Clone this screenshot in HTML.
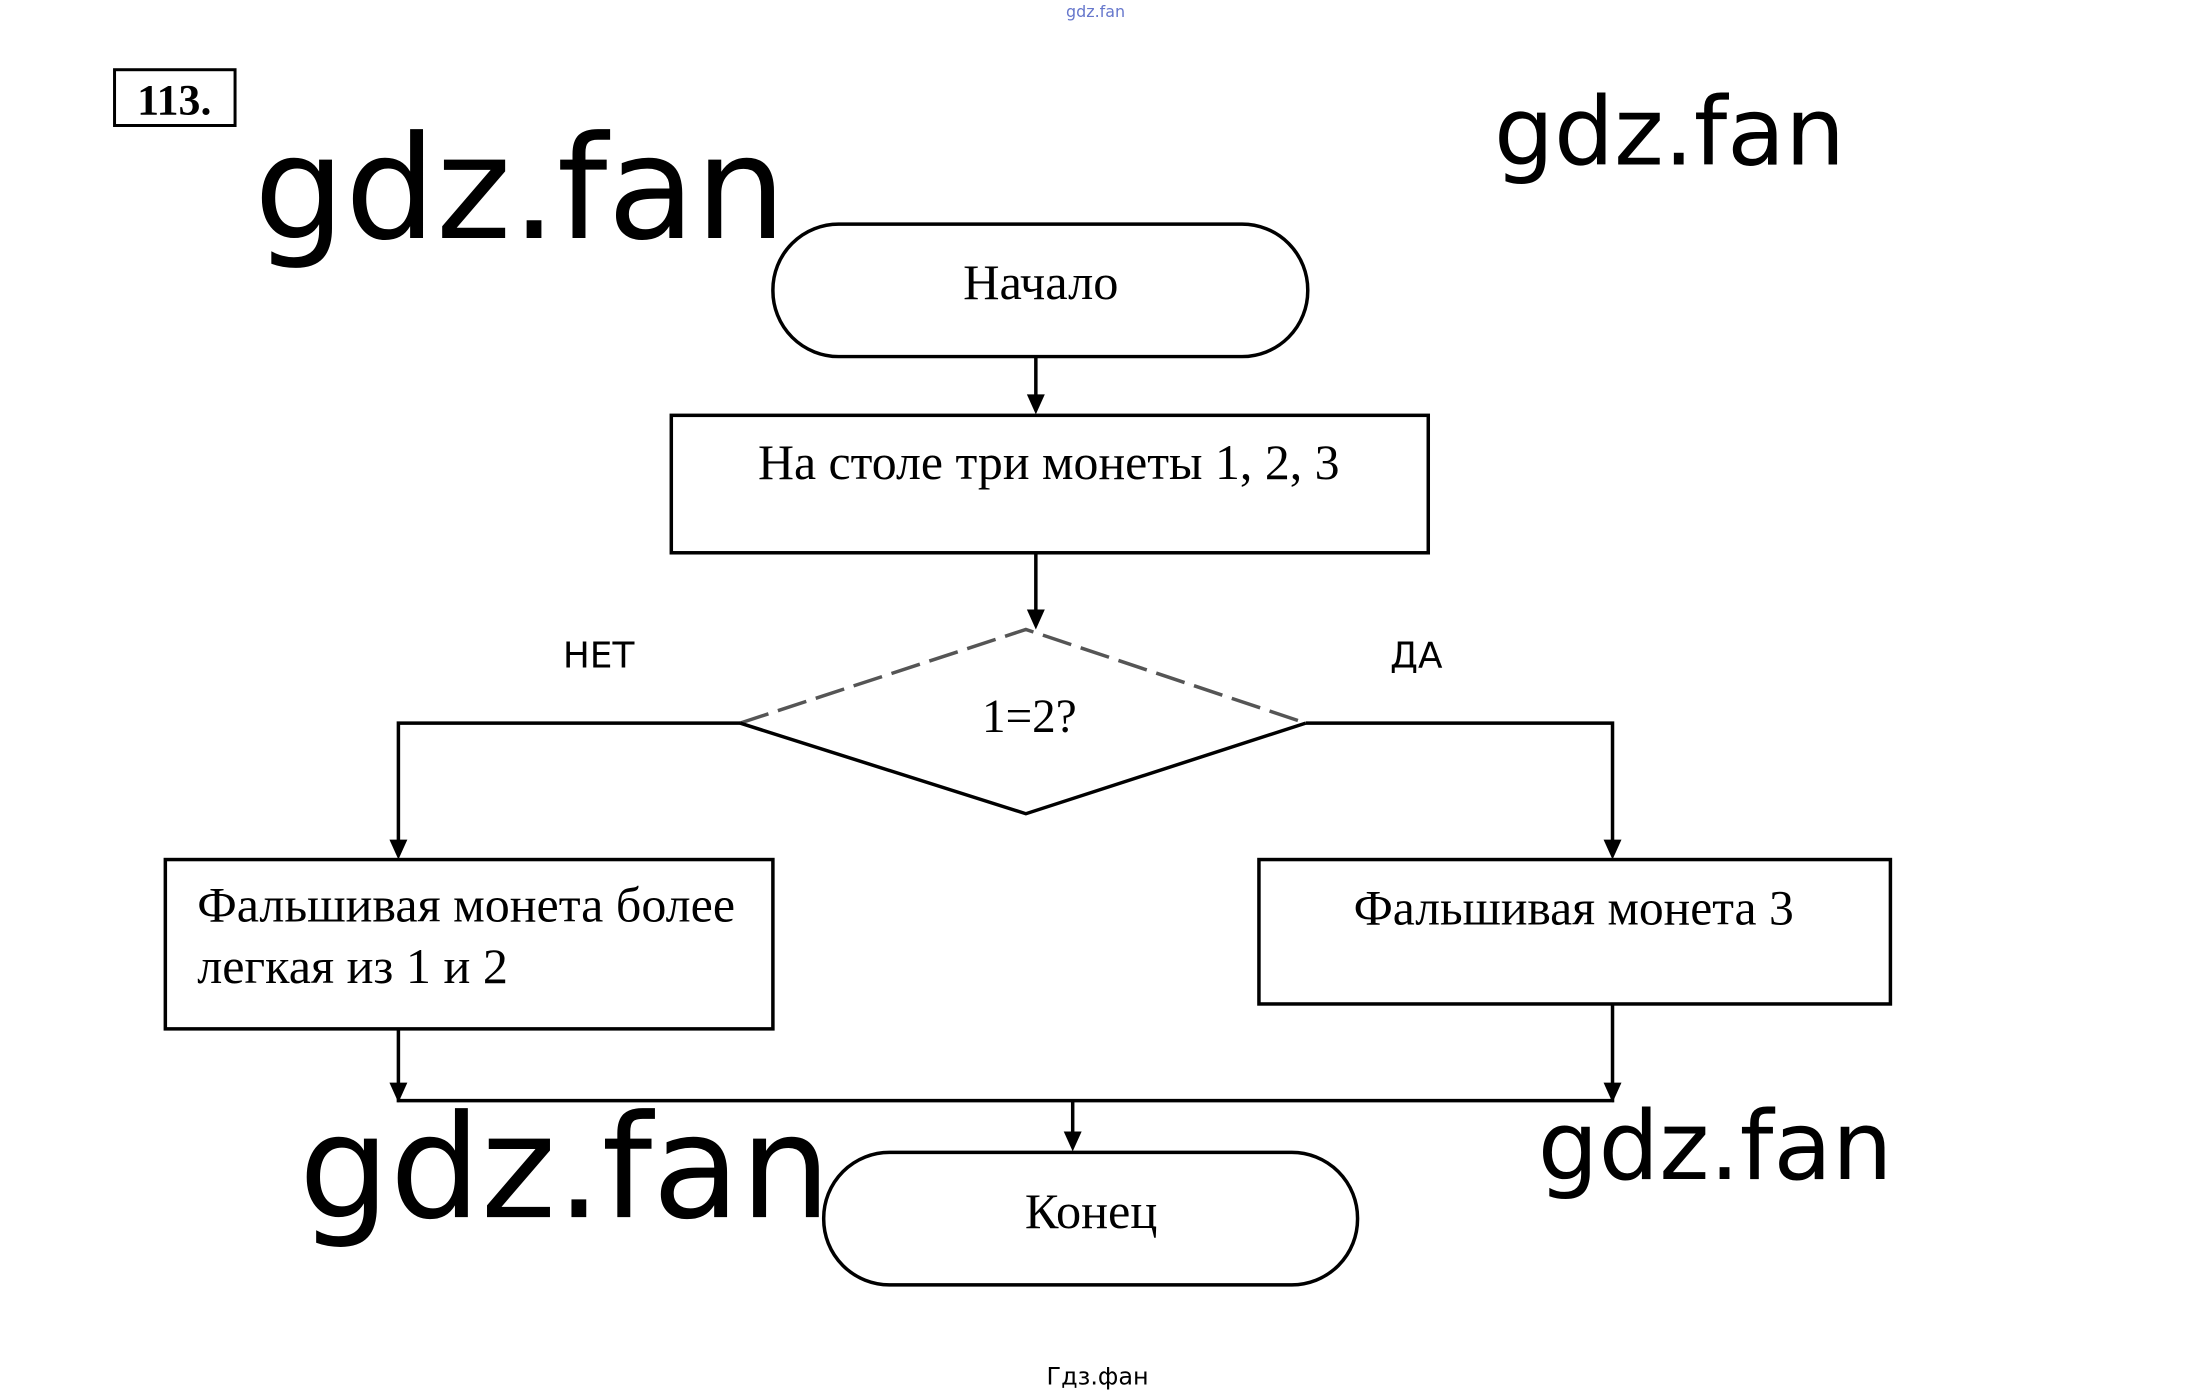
<!DOCTYPE html>
<html><head><meta charset="utf-8"><style>
html,body{margin:0;padding:0;background:#fff;}
svg{display:block}
</style></head><body>
<svg width="2190" height="1393" viewBox="0 0 2190 1393" xmlns="http://www.w3.org/2000/svg">
<g transform="scale(0.996)">
<g fill="none" stroke="#000" stroke-width="3.5">
<rect x="115" y="70" width="121" height="56" stroke-width="3"/>
<rect x="776" y="225" width="537" height="133" rx="66" ry="66"/>
<rect x="674" y="417" width="760" height="138"/>
<rect x="166" y="863" width="610" height="170"/>
<rect x="1264" y="863" width="634" height="145"/>
<rect x="827" y="1157" width="536" height="133" rx="66" ry="66"/>
<polyline points="743,726 1030,632 1311,726" stroke="#555" stroke-dasharray="30,10"/>
<polyline points="743,726 1030,817 1311,726"/>
<polyline points="743,726 400,726 400,845"/>
<polyline points="1311,726 1619,726 1619,845"/>
<line x1="1040" y1="358" x2="1040" y2="398"/>
<line x1="1040" y1="555" x2="1040" y2="614"/>
<polyline points="400,1033 400,1105 1619,1105 1619,1008"/>
<line x1="1077" y1="1105" x2="1077" y2="1138"/>
</g>
<g fill="#000">
<polygon points="1031,396 1049,396 1040,416"/>
<polygon points="1031,612 1049,612 1040,632"/>
<polygon points="391,843 409,843 400,863"/>
<polygon points="1610,843 1628,843 1619,863"/>
<polygon points="391,1087 409,1087 400,1107"/>
<polygon points="1610,1087 1628,1087 1619,1107"/>
<polygon points="1068,1136 1086,1136 1077,1156"/>
</g>
<g font-family="Liberation Serif, serif" fill="#000">
<text x="175" y="115" font-size="44" font-weight="bold" text-anchor="middle">113.</text>
<text x="967" y="300" font-size="50" textLength="156" lengthAdjust="spacingAndGlyphs">Начало</text>
<text x="761" y="481" font-size="50" textLength="584" lengthAdjust="spacingAndGlyphs">На столе три монеты 1, 2, 3</text>
<text x="986" y="735" font-size="48" textLength="95" lengthAdjust="spacingAndGlyphs">1=2?</text>
<text x="198" y="925" font-size="50" textLength="540" lengthAdjust="spacingAndGlyphs">Фальшивая монета более</text>
<text x="198" y="987" font-size="50" textLength="312" lengthAdjust="spacingAndGlyphs">легкая из 1 и 2</text>
<text x="1359" y="928" font-size="50" textLength="442" lengthAdjust="spacingAndGlyphs">Фальшивая монета 3</text>
<text x="1029" y="1233" font-size="50" textLength="133" lengthAdjust="spacingAndGlyphs">Конец</text>
</g>
<g font-family="DejaVu Sans, sans-serif" fill="#000">
<text x="601" y="670" font-size="36" text-anchor="middle">НЕТ</text>
<text x="1422" y="670" font-size="36" text-anchor="middle">ДА</text>
<text x="255" y="239" font-size="144">gdz.fan</text>
<text x="1500" y="165" font-size="95">gdz.fan</text>
<text x="300" y="1222" font-size="144">gdz.fan</text>
<text x="1544" y="1184" font-size="96">gdz.fan</text>
<text x="1102" y="1390" font-size="24" text-anchor="middle">Гдз.фан</text>
<text x="1100" y="17" font-size="16" fill="#6677cc" text-anchor="middle">gdz.fan</text>
</g>
</g>
</svg>
</body></html>
